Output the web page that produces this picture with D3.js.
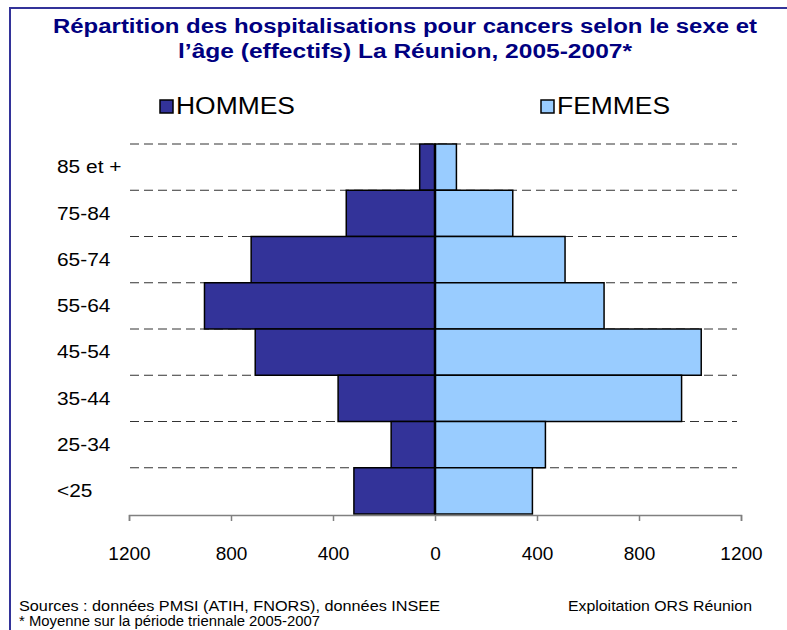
<!DOCTYPE html>
<html>
<head>
<meta charset="utf-8">
<script src="https://cdn.jsdelivr.net/npm/d3@7"></script>
<style>
  body { margin: 0; background: #fff; }
  svg { display: block; font-family: Arial, "Liberation Sans", sans-serif; }
</style>
</head>
<body>
<div id="graf"></div>
<script>
// donnees
const ages = ['85 et +', '75-84', '65-74', '55-64', '45-54', '35-44', '25-34', '<25']
const hommes = [60, 348, 721, 904, 705, 380, 172, 318]
const femmes = [84, 305, 510, 663, 1044, 967, 433, 382]
const ticks = [-1200, -800, -400, 0, 400, 800, 1200]

const ancho_total = 787, alto_total = 630
const svg = d3.select('#graf').append('svg')
  .attr('width', ancho_total)
  .attr('height', alto_total)

// le texte de l'original est un peu etire en largeur
function etire(sel, facteur) {
  sel.each(function () {
    const w = this.getComputedTextLength()
    d3.select(this).attr('textLength', w * facteur).attr('lengthAdjust', 'spacingAndGlyphs')
  })
  return sel
}

// cadre (haut + gauche)
svg.append('path')
  .attr('d', 'M10,630 V8 H787')
  .attr('fill', 'none')
  .attr('stroke', '#333399')
  .attr('stroke-width', 2)

// titre
const titre = svg.append('text')
  .attr('text-anchor', 'middle')
  .attr('font-weight', 'bold')
  .attr('font-size', 20)
  .attr('fill', '#000080')
titre.append('tspan').attr('x', 405).attr('y', 33)
  .text('Répartition des hospitalisations pour cancers selon le sexe et')
  .attr('textLength', 704).attr('lengthAdjust', 'spacingAndGlyphs')
titre.append('tspan').attr('x', 405).attr('y', 58)
  .text('l’âge (effectifs) La Réunion, 2005-2007*')
  .attr('textLength', 454).attr('lengthAdjust', 'spacingAndGlyphs')

// escalas
const x = d3.scaleLinear().domain([-1200, 1200]).range([129, 741])
const y = d3.scaleBand().domain(ages).range([144, 514]).padding(0)

const g = svg.append('g')

// grille pointillee
g.selectAll('line.grid')
  .data(ages)
  .join('line')
  .attr('class', 'grid')
  .attr('x1', 130).attr('x2', 737)
  .attr('y1', d => y(d)).attr('y2', d => y(d))
  .attr('stroke', '#333')
  .attr('stroke-width', 1)
  .attr('stroke-dasharray', '9,5')

// barres hommes
g.selectAll('rect.h')
  .data(ages)
  .join('rect')
  .attr('class', 'h')
  .attr('x', (d, i) => x(-hommes[i]))
  .attr('y', d => y(d))
  .attr('width', (d, i) => x(0) - x(-hommes[i]))
  .attr('height', y.bandwidth())
  .attr('fill', '#333399')
  .attr('stroke', '#000')
  .attr('stroke-width', 1.5)

// barres femmes
g.selectAll('rect.f')
  .data(ages)
  .join('rect')
  .attr('class', 'f')
  .attr('x', x(0))
  .attr('y', d => y(d))
  .attr('width', (d, i) => x(femmes[i]) - x(0))
  .attr('height', y.bandwidth())
  .attr('fill', '#99ccff')
  .attr('stroke', '#000')
  .attr('stroke-width', 1.5)

// ligne du zero
g.append('line')
  .attr('x1', x(0)).attr('x2', x(0))
  .attr('y1', y.range()[0]).attr('y2', y.range()[1])
  .attr('stroke', '#000')
  .attr('stroke-width', 2.5)

// etiquettes ages
g.selectAll('text.age')
  .data(ages)
  .join('text')
  .attr('class', 'age')
  .attr('x', 57)
  .attr('y', d => y(d) + y.bandwidth() / 2)
  .attr('dy', '0.35em')
  .attr('font-size', 18)
  .attr('fill', '#000')
  .text(d => d)
  .call(etire, 1.16)

// axe x
const axe = g.append('g')
  .attr('transform', 'translate(0, 515)')
  .call(d3.axisBottom(x).tickValues(ticks).tickSize(6).tickFormat(d => Math.abs(d)))
axe.select('.domain').attr('stroke', '#808080').attr('stroke-width', 1.5)
axe.selectAll('.tick line').attr('stroke', '#808080').attr('stroke-width', 1.5)
axe.selectAll('.tick text')
  .attr('y', 32)
  .attr('font-size', 19)
  .attr('font-family', 'Arial, "Liberation Sans", sans-serif')
  .attr('fill', '#000')

// legende
const legende = [
  { nom: 'HOMMES', couleur: '#333399', x: 160, w: 119 },
  { nom: 'FEMMES', couleur: '#99ccff', x: 541, w: 113 }
]
legende.forEach(l => {
  svg.append('rect')
    .attr('x', l.x).attr('y', 100)
    .attr('width', 13).attr('height', 13)
    .attr('fill', l.couleur)
    .attr('stroke', '#000')
    .attr('stroke-width', 1.5)
  svg.append('text')
    .attr('x', l.x + 16).attr('y', 114)
    .attr('font-size', 23)
    .attr('fill', '#000')
    .attr('textLength', l.w).attr('lengthAdjust', 'spacingAndGlyphs')
    .text(l.nom)
})

// sources
svg.append('text')
  .attr('x', 19).attr('y', 611)
  .attr('font-size', 14)
  .attr('textLength', 421).attr('lengthAdjust', 'spacingAndGlyphs')
  .text('Sources : données PMSI (ATIH, FNORS), données INSEE')
svg.append('text')
  .attr('x', 19).attr('y', 626)
  .attr('font-size', 14)
  .attr('textLength', 301).attr('lengthAdjust', 'spacingAndGlyphs')
  .text('* Moyenne sur la période triennale 2005-2007')
svg.append('text')
  .attr('x', 568).attr('y', 611)
  .attr('font-size', 14)
  .attr('textLength', 184).attr('lengthAdjust', 'spacingAndGlyphs')
  .text('Exploitation ORS Réunion')
</script>
</body>
</html>
